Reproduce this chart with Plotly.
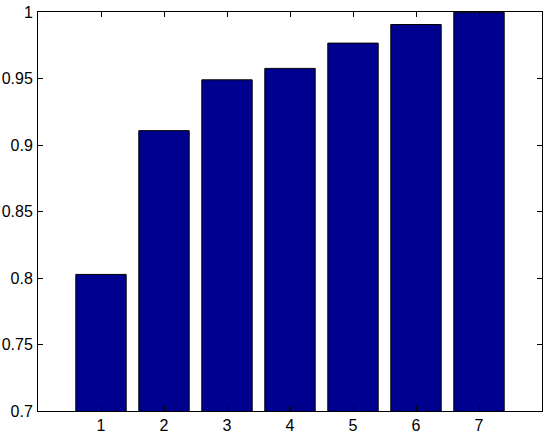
import plotly.graph_objects as go

# bar data
categories = [1, 2, 3, 4, 5, 6, 7]
values = [0.8027, 0.9108, 0.949, 0.9576, 0.9766, 0.9906, 0.9998]

y_ticks = [0.7, 0.75, 0.8, 0.85, 0.9, 0.95, 1.0]
y_labels = ["0.7", "0.75", "0.8", "0.85", "0.9", "0.95", "1"]

fig = go.Figure()
fig.add_trace(go.Bar(
    x=categories,
    y=values,
    width=0.8,
    marker=dict(color="#00008F", line=dict(color="black", width=1)),
))

axis_style = dict(
    showline=True,
    linecolor="black",
    linewidth=1,
    mirror="ticks",
    ticks="inside",
    ticklen=5,
    tickcolor="black",
    showgrid=False,
    zeroline=False,
    automargin=False,
    tickfont=dict(family="Liberation Sans, Arial", size=16, color="black"),
)

fig.update_layout(
    width=550,
    height=436,
    margin=dict(l=38, r=8, t=12, b=25, autoexpand=False),
    paper_bgcolor="white",
    plot_bgcolor="white",
    showlegend=False,
    xaxis=dict(range=[0, 8], tickvals=categories, **axis_style),
    yaxis=dict(range=[0.7, 1.0], tickvals=y_ticks, ticktext=y_labels,
               ticklabelstandoff=1, **axis_style),
)

# drop the page's default body margin so the figure sits at the corner
fig.write_html("out.html", config={"displayModeBar": False},
               post_script="document.body.style.margin='0';")
